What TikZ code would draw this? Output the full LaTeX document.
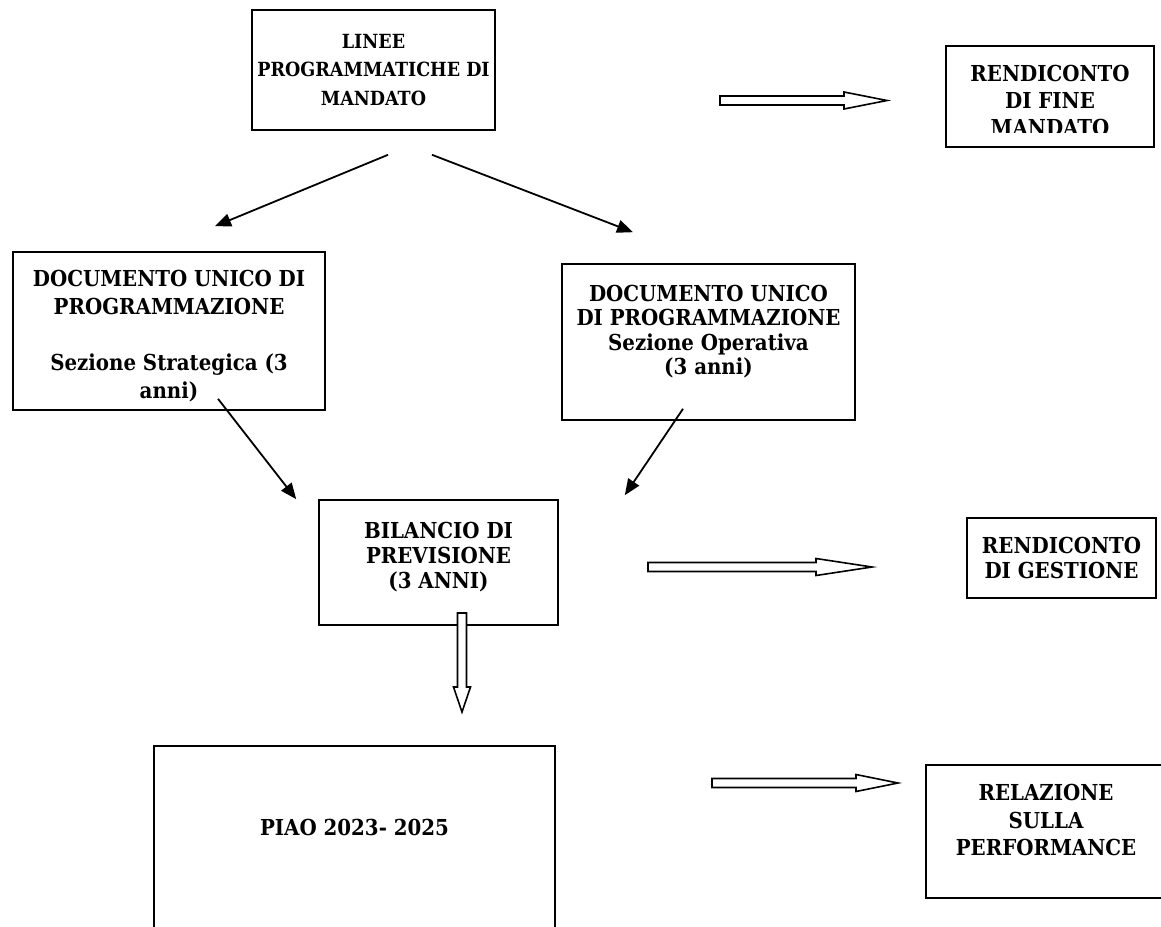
\documentclass[tikz,border=0pt]{standalone}
\usepackage{fontspec}
\setmainfont{DejaVu Serif Condensed}
\usetikzlibrary{arrows.meta, calc}
\tikzset{
    docbox/.style={draw, line width=1.6pt, align=center, inner sep=0pt,
        font=\bfseries\fontsize{22}{#1}\selectfont},
    docbox/.default=27,
    lifted/.style={text depth=#1},
    arrow/.style={line width=1.8pt, -{Triangle[length=16pt, width=13pt]}},
    hollow/.style={draw, line width=1.6pt, fill=white, line join=miter}
}
% hollow block arrow: [rotation] tail, length, head length
\newcommand{\hollowarrow}[4][]{%
    \draw[hollow, shift={(#2)}, #1] (0,-4.5) -- (#3-#4,-4.5) -- (#3-#4,-8.5) -- (#3,0)
        -- (#3-#4,8.5) -- (#3-#4,4.5) -- (0,4.5) -- cycle;}

\begin{document}
\begin{tikzpicture}[x=1pt, y=-1pt]
    \useasboundingbox (0,0) rectangle (1161,926);
    \clip (0,0) rectangle (1161,926);

    % Draw the boxes
    \node[docbox, font=\bfseries\fontsize{19.5}{28.5}\selectfont,
        minimum width=243, minimum height=120] (linee) at (373.5,70)
        {LINEE\\PROGRAMMATICHE DI\\MANDATO};
    \begin{scope}
        \clip (940,40) rectangle (1160,132);
        \node[docbox, draw=none, minimum width=206, minimum height=99, text height=79pt]
            (finemand) at (1050,96.5) {RENDICONTO\\DI FINE\\MANDATO};
    \end{scope}
    \draw[line width=1.6pt] (finemand.north west) rectangle (finemand.south east);
    \node[docbox=28, minimum width=312, minimum height=158, text height=138pt] (dss) at (169,331)
        {DOCUMENTO UNICO DI\\PROGRAMMAZIONE\\[28pt]Sezione Strategica (3\\anni)};
    \node[docbox=24.5, minimum width=293, minimum height=156, lifted=24pt] (dso) at (708.5,342)
        {DOCUMENTO UNICO\\DI PROGRAMMAZIONE\\Sezione Operativa\\(3 anni)};
    \node[docbox=25, minimum width=239, minimum height=125, lifted=15pt] (bil) at (438.5,562.5)
        {BILANCIO DI\\PREVISIONE\\(3 ANNI)};
    \node[docbox=25, minimum width=189, minimum height=80] (gest) at (1061.5,558)
        {RENDICONTO\\DI GESTIONE};
    \node[docbox, minimum width=401, minimum height=200, lifted=38pt] (piao) at (354.5,846)
        {PIAO 2023- 2025};
    \node[docbox=27.5, minimum width=240, minimum height=133, lifted=23pt] (perf) at (1046,831.5)
        {RELAZIONE\\SULLA\\PERFORMANCE};

    % Draw the arrows between the boxes
    \draw[arrow] ($(linee.south)+(14.5,24)$) -- ($(dss.north)+(46,-25)$);
    \draw[arrow] ($(linee.south)+(58.5,24)$) -- ($(dso.north)+(-75.5,-31)$);
    \draw[arrow] ($(dss.south)+(49,-12)$) -- ($(bil.north west)+(-22,0)$);
    \draw[arrow] ($(dso.south)+(-25.5,-12)$) -- ($(bil.north east)+(66,-4)$);

    % Draw the block arrows
    \coordinate (finemand-tail) at (720,100.5);
    \coordinate (gest-tail) at (648,567);
    \coordinate (piao-tail) at (462,613);
    \coordinate (perf-tail) at (712,783);
    \hollowarrow{finemand-tail}{167}{43}
    \hollowarrow{gest-tail}{224}{56}
    \hollowarrow[rotate=-90]{piao-tail}{99}{25}
    \hollowarrow{perf-tail}{186}{42}
\end{tikzpicture}
\end{document}
